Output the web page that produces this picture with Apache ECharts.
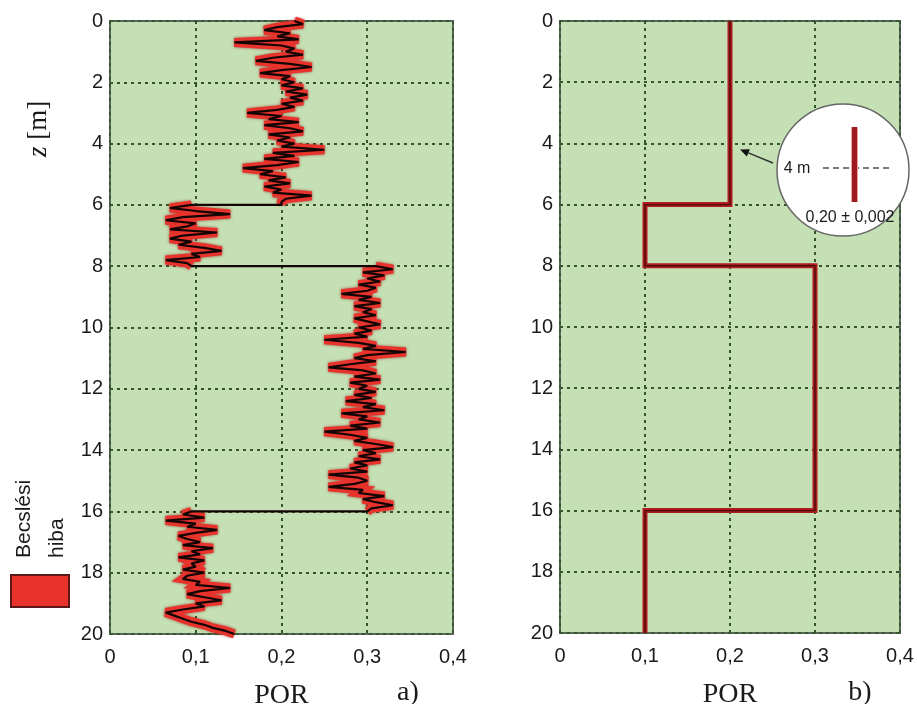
<!DOCTYPE html>
<html>
<head>
<meta charset="utf-8">
<script src="https://cdn.jsdelivr.net/npm/echarts@6/dist/echarts.min.js"></script>
<style>
  html, body { margin: 0; padding: 0; background: #ffffff; }
  #chart { width: 917px; height: 704px; }
</style>
</head>
<body>
<div id="chart"></div>
<script>
// Depth sampling of the inverted porosity log (m)
const depthStep = 0.1;
const layerTops = [0, 6, 8, 16];

// Inverted porosity, layer 1: 0–6 m
const porLayer1 = [
  0.215, 0.225, 0.195, 0.18, 0.21, 0.195, 0.22, 0.145, 0.2, 0.215,
  0.205, 0.225, 0.19, 0.17, 0.21, 0.235, 0.2, 0.175, 0.21, 0.2,
  0.215, 0.2, 0.225, 0.205, 0.23, 0.21, 0.225, 0.2, 0.215, 0.195,
  0.16, 0.2, 0.185, 0.22, 0.18, 0.21, 0.225, 0.185, 0.21, 0.195,
  0.215, 0.2, 0.25, 0.19, 0.215, 0.18, 0.22, 0.195, 0.155, 0.19,
  0.175, 0.205, 0.185, 0.21, 0.18, 0.2, 0.19, 0.235, 0.205, 0.2,
  0.2
];
// layer 2: 6–8 m
const porLayer2 = [
  0.095, 0.07, 0.1, 0.14, 0.085, 0.065, 0.1, 0.09, 0.07, 0.125,
  0.085, 0.07, 0.095, 0.08, 0.11, 0.13, 0.095, 0.105, 0.065, 0.09,
  0.095
];
// layer 3: 8–16 m
const porLayer3 = [
  0.31, 0.33, 0.295, 0.32, 0.3, 0.315, 0.29, 0.31, 0.3, 0.27,
  0.305, 0.29, 0.315, 0.285, 0.305, 0.295, 0.31, 0.285, 0.3, 0.315,
  0.29, 0.305, 0.285, 0.3, 0.25, 0.29, 0.31, 0.295, 0.345, 0.3,
  0.285, 0.31, 0.28, 0.255, 0.295, 0.31, 0.285, 0.315, 0.28, 0.3,
  0.29, 0.31, 0.285, 0.305, 0.275, 0.31, 0.295, 0.32, 0.27, 0.3,
  0.29, 0.315, 0.28, 0.3, 0.25, 0.28, 0.3, 0.285, 0.31, 0.33,
  0.295, 0.31, 0.29, 0.315, 0.285, 0.3, 0.28, 0.3, 0.255, 0.29,
  0.3, 0.285, 0.255, 0.295, 0.29, 0.32, 0.295, 0.31, 0.33, 0.305,
  0.3
];
// layer 4: 16–20 m
const porLayer4 = [
  0.095, 0.085, 0.11, 0.065, 0.1, 0.09, 0.125, 0.1, 0.08, 0.09,
  0.105, 0.085, 0.12, 0.095, 0.105, 0.08, 0.11, 0.095, 0.1, 0.085,
  0.11, 0.09, 0.085, 0.105, 0.1, 0.14, 0.105, 0.09, 0.11, 0.13,
  0.1, 0.11, 0.085, 0.065, 0.075, 0.085, 0.095, 0.11, 0.12, 0.135,
  0.145
];

// Layered model (b): layer boundaries and porosity
const modelTops = [0, 6, 8, 16];
const modelBottoms = [6, 8, 16, 20];
const modelPor = [0.2, 0.1, 0.3, 0.1];

// Tick labels
const xTicks = ['0', '0,1', '0,2', '0,3', '0,4'];

// ---- build [por, depth] pairs ----
const estimatedLayers = [porLayer1, porLayer2, porLayer3, porLayer4].map((layer, k) =>
  layer.map((v, i) => [v, Math.round((layerTops[k] + i * depthStep) * 10) / 10])
);
const estimated = [].concat(...estimatedLayers);
const model = [];
modelPor.forEach((v, k) => {
  model.push([v, modelTops[k]]);
  model.push([v, modelBottoms[k]]);
});

const GRID_GREEN = '#c5e0b4';
const DOT_GREEN = '#35562c';

function xAxisFor(idx) {
  return {
    gridIndex: idx, type: 'value', min: 0, max: 0.4, interval: 0.1,
    position: 'bottom',
    name: 'POR', nameLocation: 'middle', nameGap: 48,
    nameTextStyle: { fontFamily: 'Liberation Serif', fontSize: 28, color: '#1a1a1a' },
    axisLine: { show: false }, axisTick: { show: false },
    axisLabel: {
      margin: 13, fontFamily: 'Liberation Sans', fontSize: 20, color: '#1a1a1a',
      formatter: (v) => xTicks[Math.round(v * 10)]
    },
    splitLine: { show: true, lineStyle: { color: DOT_GREEN, width: 2, type: [3, 4] } }
  };
}
function yAxisFor(idx) {
  return {
    gridIndex: idx, type: 'value', min: 0, max: 20, interval: 2, inverse: true,
    axisLine: { show: false }, axisTick: { show: false },
    axisLabel: { margin: 7, fontFamily: 'Liberation Sans', fontSize: 20, color: '#1a1a1a' },
    splitLine: { show: true, lineStyle: { color: DOT_GREEN, width: 2, type: [3, 4] } }
  };
}

// error band drawn per layer, so the layer jumps stay thin
const bandSeries = estimatedLayers.map((layerData) => ({
  type: 'line', xAxisIndex: 0, yAxisIndex: 0, data: layerData,
  symbol: 'none', silent: true,
  lineStyle: { color: '#e8322c', width: 9, join: 'miter', miterLimit: 3,
               shadowColor: 'rgba(140,20,20,0.7)', shadowBlur: 3 }
}));

const chart = echarts.init(document.getElementById('chart'), null, { renderer: 'canvas' });

chart.setOption({
  animation: false,
  backgroundColor: '#ffffff',
  grid: [
    { left: 110, top: 21, width: 343, height: 613, show: true, outerBoundsMode: 'none',
      containLabel: false,
      backgroundColor: GRID_GREEN, borderColor: '#56675a', borderWidth: 2 },
    { left: 560, top: 21, width: 340, height: 612, show: true, outerBoundsMode: 'none',
      containLabel: false,
      backgroundColor: GRID_GREEN, borderColor: '#56675a', borderWidth: 2 }
  ],
  xAxis: [xAxisFor(0), xAxisFor(1)],
  yAxis: [yAxisFor(0), yAxisFor(1)],
  series: bandSeries.concat([
    { // estimated porosity
      type: 'line', xAxisIndex: 0, yAxisIndex: 0, data: estimated,
      symbol: 'none', silent: true,
      lineStyle: { color: '#140505', width: 2.2 }
    },
    { // model error band
      type: 'line', xAxisIndex: 1, yAxisIndex: 1, data: model,
      symbol: 'none', silent: true,
      lineStyle: { color: '#b01b1d', width: 5, join: 'miter' }
    },
    { // model porosity
      type: 'line', xAxisIndex: 1, yAxisIndex: 1, data: model,
      symbol: 'none', silent: true,
      lineStyle: { color: '#2e0a0a', width: 1.4, opacity: 0.8 }
    }
  ])
});

// Annotations: depth axis title, legend, panel letters, magnified inset
const tip = chart.convertToPixel({ xAxisIndex: 1, yAxisIndex: 1 }, [modelPor[0], 4]);
const arrowTip = [tip[0] + 10, tip[1] + 6];
const arrowTail = [773, 163];
const ang = Math.atan2(arrowTail[1] - arrowTip[1], arrowTail[0] - arrowTip[0]);
const ah = 9, aw = 4;
const base = [arrowTip[0] + ah * Math.cos(ang), arrowTip[1] + ah * Math.sin(ang)];
const head = [
  arrowTip,
  [base[0] + aw * Math.sin(ang), base[1] - aw * Math.cos(ang)],
  [base[0] - aw * Math.sin(ang), base[1] + aw * Math.cos(ang)]
];

chart.setOption({
  graphic: [
    { type: 'text', x: 39, y: 129, rotation: Math.PI / 2,
      style: { text: '{i|z} [m]', align: 'center', verticalAlign: 'middle',
               fontFamily: 'Liberation Serif', fontSize: 27, fill: '#1a1a1a',
               rich: { i: { fontFamily: 'Liberation Serif', fontStyle: 'italic', fontSize: 27, fill: '#1a1a1a' } } } },
    { type: 'text', x: 24, y: 558, rotation: Math.PI / 2,
      style: { text: 'Becslési', align: 'left', verticalAlign: 'middle',
               fontFamily: 'Liberation Sans', fontSize: 21, fill: '#1a1a1a' } },
    { type: 'text', x: 57, y: 558, rotation: Math.PI / 2,
      style: { text: 'hiba', align: 'left', verticalAlign: 'middle',
               fontFamily: 'Liberation Sans', fontSize: 21, fill: '#1a1a1a' } },
    { type: 'rect', shape: { x: 11, y: 575, width: 58, height: 32 },
      style: { fill: '#e8322c', stroke: '#5a1a1a', lineWidth: 2 } },
    { type: 'text', x: 408, y: 693, style: { text: 'a)', align: 'center', verticalAlign: 'middle',
      fontFamily: 'Liberation Serif', fontSize: 28, fill: '#1a1a1a' } },
    { type: 'text', x: 860, y: 693, style: { text: 'b)', align: 'center', verticalAlign: 'middle',
      fontFamily: 'Liberation Serif', fontSize: 28, fill: '#1a1a1a' } },
    // arrow to the magnified detail
    { type: 'line', shape: { x1: arrowTail[0], y1: arrowTail[1], x2: base[0], y2: base[1] },
      style: { stroke: '#333333', lineWidth: 1.5 }, z: 20 },
    { type: 'polygon', shape: { points: head }, style: { fill: '#111111' }, z: 20 },
    // magnified inset
    { type: 'circle', shape: { cx: 843, cy: 170, r: 66 },
      style: { fill: '#ffffff', stroke: '#666666', lineWidth: 1.5 }, z: 20 },
    { type: 'line', shape: { x1: 823, y1: 168, x2: 890, y2: 168 },
      style: { stroke: '#7a7a7a', lineWidth: 2, lineDash: [6, 4] }, z: 21 },
    { type: 'rect', shape: { x: 851, y: 127, width: 7, height: 75 },
      style: { fill: '#f0a0a0' }, z: 22 },
    { type: 'rect', shape: { x: 852, y: 127, width: 5, height: 75 },
      style: { fill: '#9e1a1e' }, z: 23 },
    { type: 'text', x: 797, y: 169, style: { text: '4 m', align: 'center', verticalAlign: 'middle',
      fontFamily: 'Liberation Sans', fontSize: 16, fill: '#1a1a1a' }, z: 23 },
    { type: 'text', x: 850, y: 218, style: { text: '0,20 ± 0,002', align: 'center', verticalAlign: 'middle',
      fontFamily: 'Liberation Sans', fontSize: 16, fill: '#1a1a1a' }, z: 23 }
  ]
});
</script>
</body>
</html>
